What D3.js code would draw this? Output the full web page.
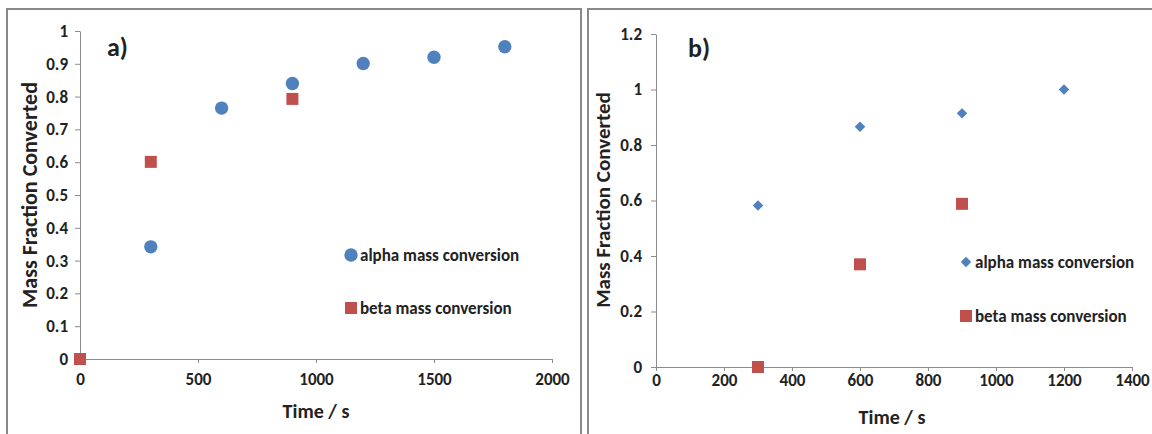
<!DOCTYPE html>
<html>
<head>
<meta charset="utf-8">
<script src="https://cdn.jsdelivr.net/npm/d3@7"></script>
<style>
  body { margin: 0; background: #fff; }
  svg text { font-family: Carlito, Calibri, "Liberation Sans", Arial, sans-serif; font-weight: bold; fill: #222; }
</style>
</head>
<body>
<script>
// panel a)
var timeA = [300, 600, 900, 1200, 1500, 1800];
var alphaA = [0.342, 0.765, 0.840, 0.901, 0.920, 0.952];
var timeBetaA = [0, 300, 900];
var betaA = [0, 0.601, 0.793];
var xTicksA = [0, 500, 1000, 1500, 2000];
var yTicksA = [0, 0.1, 0.2, 0.3, 0.4, 0.5, 0.6, 0.7, 0.8, 0.9, 1];

// panel b)
var timeB = [300, 600, 900, 1200];
var alphaB = [0.582, 0.866, 0.914, 1.0];
var timeBetaB = [300, 600, 900];
var betaB = [0, 0.370, 0.588];
var xTicksB = [0, 200, 400, 600, 800, 1000, 1200, 1400];
var yTicksB = [0, 0.2, 0.4, 0.6, 0.8, 1, 1.2];

var legendLabels = ["alpha mass conversion", "beta mass conversion"];

var blue = "#4f81bd", red = "#c0504d", axisCol = "#8c8c8c";

var svg = d3.select("body").append("svg").attr("width", 1152).attr("height", 434);

// panel frames
svg.append("rect").attr("x", 7).attr("y", 9).attr("width", 574).attr("height", 440)
  .attr("fill", "none").attr("stroke", "#8a8a8a").attr("stroke-width", 2);
svg.append("rect").attr("x", 588).attr("y", 9).attr("width", 580).attr("height", 440)
  .attr("fill", "none").attr("stroke", "#8a8a8a").attr("stroke-width", 2);

function drawPanel(o) {
  var x = d3.scaleLinear().domain(o.xDomain).range(o.xRange);
  var y = d3.scaleLinear().domain(o.yDomain).range(o.yRange);
  var g = svg.append("g");

  var xAxis = g.append("g").attr("transform", "translate(0," + o.yRange[0] + ")")
    .call(d3.axisBottom(x).tickValues(o.xTicks).tickSize(4).tickSizeOuter(0).tickPadding(o.xPad).tickFormat(d3.format("d")));
  var yAxis = g.append("g").attr("transform", "translate(" + o.xRange[0] + ",0)")
    .call(d3.axisLeft(y).tickValues(o.yTicks).tickSize(5).tickSizeOuter(0).tickPadding(o.yPad).tickFormat(function (d) { return +d.toFixed(1) + ""; }));
  [xAxis, yAxis].forEach(function (a) {
    a.select(".domain").attr("stroke", axisCol);
    a.selectAll(".tick line").attr("stroke", axisCol);
    a.selectAll(".tick text").style("font-size", "17px").style("fill", "#222");
  });

  g.append("text").attr("x", o.labelPos[0]).attr("y", o.labelPos[1]).attr("dy", "0.35em")
    .style("font-size", "26px").text(o.label);

  g.append("text").attr("transform", "translate(" + o.yTitlePos[0] + "," + o.yTitlePos[1] + ") rotate(-90)")
    .attr("text-anchor", "middle").attr("dy", "0.35em").style("font-size", o.yTitleSize + "px").text("Mass Fraction Converted");
  g.append("text").attr("x", o.xTitlePos[0]).attr("y", o.xTitlePos[1]).attr("text-anchor", "middle")
    .attr("dy", "0.35em").style("font-size", "20px").text("Time / s");

  var alpha = o.alphaT.map(function (t, i) { return [t, o.alphaV[i]]; });
  var beta = o.betaT.map(function (t, i) { return [t, o.betaV[i]]; });

  var sym = o.diamond ? d3.symbol().type(d3.symbolDiamond2).size(70) : d3.symbol().type(d3.symbolCircle).size(140);
  g.selectAll(".alpha").data(alpha).enter().append("path")
    .attr("d", sym)
    .attr("transform", function (d) { return "translate(" + x(d[0]) + "," + y(d[1]) + ")"; })
    .attr("fill", blue);
  g.selectAll(".beta").data(beta).enter().append("rect")
    .attr("x", function (d) { return x(d[0]) - 6; })
    .attr("y", function (d) { return y(d[1]) - 6; })
    .attr("width", 12).attr("height", 12)
    .attr("fill", red);

  // legend
  var lg = g.append("g").attr("transform", "translate(" + o.legendPos[0] + "," + o.legendPos[1] + ")");
  lg.append("path").attr("d", sym).attr("fill", blue);
  lg.append("rect").attr("x", -6).attr("y", o.legendGap - 6).attr("width", 12).attr("height", 12).attr("fill", red);
  lg.selectAll("text").data(legendLabels).enter().append("text")
    .attr("x", 9).attr("y", function (d, i) { return i * o.legendGap; })
    .attr("dy", "0.35em").style("font-size", "17px").text(function (d) { return d; });
}

drawPanel({
  xDomain: [0, 2000], xRange: [80, 552], yDomain: [0, 1], yRange: [359, 31],
  xTicks: xTicksA, yTicks: yTicksA, xPad: 10, yPad: 7,
  alphaT: timeA, alphaV: alphaA, betaT: timeBetaA, betaV: betaA,
  label: "a)", labelPos: [107, 47], yTitlePos: [29, 195], yTitleSize: 22, xTitlePos: [316, 411],
  legendPos: [351, 255], legendGap: 53, diamond: false
});

drawPanel({
  xDomain: [0, 1400], xRange: [656, 1132], yDomain: [0, 1.2], yRange: [367, 34],
  xTicks: xTicksB, yTicks: yTicksB, xPad: 3, yPad: 9,
  alphaT: timeB, alphaV: alphaB, betaT: timeBetaB, betaV: betaB,
  label: "b)", labelPos: [688, 48], yTitlePos: [603, 200], yTitleSize: 21, xTitlePos: [892, 417],
  legendPos: [966, 262], legendGap: 54, diamond: true
});
</script>
</body>
</html>
